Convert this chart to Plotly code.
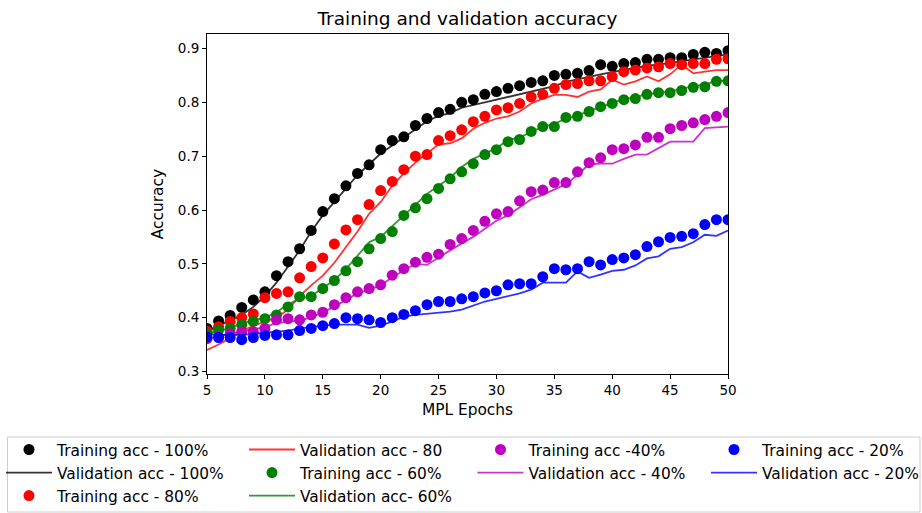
import plotly.graph_objects as go

epochs = [5, 6, 7, 8, 9, 10, 11, 12, 13, 14, 15, 16, 17, 18, 19, 20, 21, 22, 23, 24, 25, 26,
          27, 28, 29, 30, 31, 32, 33, 34, 35, 36, 37, 38, 39, 40, 41, 42, 43, 44, 45, 46, 47,
          48, 49, 50]

train_100 = [0.380, 0.394, 0.404, 0.419, 0.433, 0.448, 0.478, 0.504, 0.528, 0.562, 0.597, 0.621,
             0.645, 0.668, 0.684, 0.712, 0.729, 0.736, 0.757, 0.770, 0.781, 0.787, 0.800, 0.805,
             0.815, 0.820, 0.826, 0.831, 0.837, 0.840, 0.850, 0.852, 0.854, 0.859, 0.870, 0.867,
             0.872, 0.874, 0.880, 0.880, 0.883, 0.883, 0.889, 0.893, 0.891, 0.896]
val_100 = [0.375, 0.385, 0.395, 0.405, 0.420, 0.440, 0.465, 0.495, 0.525, 0.560, 0.590, 0.615,
           0.640, 0.665, 0.685, 0.705, 0.720, 0.735, 0.750, 0.765, 0.775, 0.780, 0.790, 0.795,
           0.800, 0.805, 0.810, 0.815, 0.820, 0.825, 0.830, 0.838, 0.843, 0.848, 0.852, 0.856,
           0.860, 0.864, 0.868, 0.870, 0.873, 0.876, 0.880, 0.883, 0.886, 0.889]

train_80 = [0.375, 0.383, 0.393, 0.400, 0.407, 0.437, 0.445, 0.448, 0.474, 0.495, 0.511, 0.537,
            0.563, 0.582, 0.610, 0.636, 0.653, 0.675, 0.700, 0.703, 0.729, 0.738, 0.749, 0.764,
            0.774, 0.786, 0.790, 0.798, 0.810, 0.815, 0.826, 0.833, 0.835, 0.840, 0.840, 0.848,
            0.857, 0.860, 0.864, 0.866, 0.872, 0.870, 0.872, 0.872, 0.880, 0.881]
val_80 = [0.340, 0.350, 0.362, 0.375, 0.385, 0.392, 0.400, 0.415, 0.440, 0.460, 0.478, 0.502,
          0.530, 0.560, 0.593, 0.615, 0.645, 0.668, 0.688, 0.705, 0.722, 0.724, 0.733, 0.751,
          0.762, 0.770, 0.774, 0.783, 0.798, 0.807, 0.814, 0.814, 0.810, 0.820, 0.824, 0.842,
          0.833, 0.839, 0.848, 0.839, 0.852, 0.870, 0.854, 0.857, 0.860, 0.860]

train_60 = [0.370, 0.377, 0.380, 0.387, 0.393, 0.398, 0.405, 0.420, 0.439, 0.439, 0.454, 0.469,
            0.487, 0.504, 0.528, 0.547, 0.560, 0.590, 0.604, 0.621, 0.640, 0.658, 0.671, 0.686,
            0.703, 0.712, 0.727, 0.731, 0.746, 0.755, 0.755, 0.772, 0.774, 0.783, 0.792, 0.798,
            0.805, 0.807, 0.815, 0.818, 0.818, 0.822, 0.828, 0.829, 0.839, 0.840]
val_60 = [0.370, 0.375, 0.380, 0.390, 0.395, 0.400, 0.410, 0.425, 0.435, 0.440, 0.455, 0.470,
          0.490, 0.515, 0.540, 0.550, 0.570, 0.590, 0.610, 0.630, 0.645, 0.660, 0.680, 0.695,
          0.705, 0.715, 0.730, 0.735, 0.745, 0.755, 0.760, 0.770, 0.775, 0.785, 0.790, 0.800,
          0.805, 0.810, 0.815, 0.818, 0.820, 0.825, 0.830, 0.833, 0.840, 0.840]

train_40 = [0.361, 0.364, 0.370, 0.374, 0.374, 0.380, 0.396, 0.398, 0.396, 0.405, 0.410, 0.424,
            0.437, 0.448, 0.454, 0.461, 0.479, 0.491, 0.503, 0.512, 0.518, 0.536, 0.547, 0.562,
            0.579, 0.593, 0.597, 0.617, 0.634, 0.637, 0.651, 0.651, 0.671, 0.688, 0.697, 0.712,
            0.714, 0.721, 0.735, 0.735, 0.751, 0.757, 0.762, 0.768, 0.774, 0.781]
val_40 = [0.360, 0.365, 0.370, 0.375, 0.378, 0.383, 0.390, 0.393, 0.395, 0.400, 0.410, 0.420,
          0.433, 0.445, 0.452, 0.460, 0.475, 0.488, 0.500, 0.498, 0.512, 0.525, 0.538, 0.550,
          0.565, 0.580, 0.590, 0.605, 0.620, 0.628, 0.638, 0.648, 0.665, 0.685, 0.686, 0.686,
          0.695, 0.703, 0.703, 0.715, 0.727, 0.727, 0.727, 0.752, 0.754, 0.755]

train_20 = [0.364, 0.363, 0.363, 0.359, 0.363, 0.367, 0.368, 0.368, 0.376, 0.380, 0.385, 0.389,
            0.400, 0.398, 0.396, 0.391, 0.400, 0.406, 0.413, 0.424, 0.430, 0.430, 0.435, 0.439,
            0.446, 0.450, 0.461, 0.463, 0.463, 0.476, 0.491, 0.489, 0.491, 0.504, 0.498, 0.508,
            0.511, 0.517, 0.532, 0.541, 0.549, 0.551, 0.556, 0.573, 0.582, 0.582]
val_20 = [0.370, 0.368, 0.368, 0.368, 0.370, 0.372, 0.374, 0.376, 0.380, 0.383, 0.385, 0.387,
          0.387, 0.387, 0.381, 0.385, 0.393, 0.402, 0.405, 0.407, 0.409, 0.411, 0.415, 0.422,
          0.430, 0.435, 0.440, 0.445, 0.452, 0.465, 0.465, 0.465, 0.486, 0.474, 0.480, 0.487,
          0.489, 0.497, 0.510, 0.514, 0.528, 0.531, 0.540, 0.554, 0.552, 0.562]

x_ticks = [5, 10, 15, 20, 25, 30, 35, 40, 45, 50]
y_ticks = [0.3, 0.4, 0.5, 0.6, 0.7, 0.8, 0.9]

# (name, values, kind, colour, legend column)
series = [
    ("Training acc - 100%", train_100, "markers", "#000000", "legend"),
    ("Validation acc - 100%", val_100, "lines", "#000000", "legend"),
    ("Training acc - 80%", train_80, "markers", "#ff0000", "legend"),
    ("Validation acc - 80", val_80, "lines", "#ff0000", "legend2"),
    ("Training acc - 60%", train_60, "markers", "#008000", "legend2"),
    ("Validation acc- 60%", val_60, "lines", "#008000", "legend2"),
    ("Training acc -40%", train_40, "markers", "#bf00bf", "legend3"),
    ("Validation acc - 40%", val_40, "lines", "#bf00bf", "legend3"),
    ("Training acc - 20%", train_20, "markers", "#0000ff", "legend4"),
    ("Validation acc - 20%", val_20, "lines", "#0000ff", "legend4"),
]

fig = go.Figure()
for name, vals, kind, col, leg in series:
    if kind == "markers":
        fig.add_trace(go.Scatter(x=epochs, y=vals, mode="markers", name=name, legend=leg,
                                 marker=dict(color=col, size=11, line=dict(width=0))))
    else:
        fig.add_trace(go.Scatter(x=epochs, y=vals, mode="lines", name=name, legend=leg,
                                 line=dict(color=col, width=1.8), opacity=0.8))

FONT = "DejaVu Sans"
W, H = 922, 513
ML, MR, MT, MB = 207, 194, 34, 139
PW, PH = W - ML - MR, H - MT - MB


def px_to_paper_x(px):
    return (px - ML) / PW


def px_to_paper_y(py):
    return (H - MB - py) / PH


def legend_at(left_px, top_px):
    # horizontal legend whose entries are wider than half the plot width,
    # so each entry wraps onto its own row (one legend per column)
    return dict(orientation="h", xref="container", yref="container",
                x=left_px / W, y=1 - top_px / H, xanchor="left", yanchor="top",
                entrywidth=300, entrywidthmode="pixels",
                borderwidth=0, bgcolor="rgba(0,0,0,0)", itemwidth=46,
                font=dict(family=FONT, size=15.4, color="#000000"), traceorder="normal")


LEG_TOP = 433
fig.update_layout(
    width=W, height=H,
    margin=dict(l=ML, r=MR, t=MT, b=MB),
    paper_bgcolor="white", plot_bgcolor="white",
    font=dict(family=FONT, size=13, color="#000000"),
    title=dict(text="Training and validation accuracy", x=0.5, xref="paper",
               y=1 - 18.5 / H, yref="container", yanchor="middle", xanchor="center",
               font=dict(family=FONT, size=18.5, color="#000000")),
    xaxis=dict(range=[5, 50], tickvals=x_ticks, ticks="outside", ticklen=4, tickcolor="#000",
               showgrid=False, zeroline=False, showline=True, linecolor="#000", linewidth=1,
               mirror=True, title=dict(text="MPL Epochs", standoff=7, font=dict(size=15.4)),
               tickfont=dict(size=13.5)),
    yaxis=dict(range=[0.2953, 0.927], tickvals=y_ticks, tickformat=".1f", ticks="outside",
               ticklen=4, tickcolor="#000", showgrid=False, zeroline=False, showline=True,
               linecolor="#000", linewidth=1, mirror=True,
               title=dict(text="Accuracy", standoff=10, font=dict(size=15.4)),
               tickfont=dict(size=13.5)),
    legend=legend_at(1, LEG_TOP),
    legend2=legend_at(244, LEG_TOP),
    legend3=legend_at(472.5, LEG_TOP),
    legend4=legend_at(706, LEG_TOP),
    shapes=[dict(type="rect", xref="paper", yref="paper",
                 x0=px_to_paper_x(7.5), x1=px_to_paper_x(920),
                 y0=px_to_paper_y(437), y1=px_to_paper_y(512),
                 line=dict(color="#cccccc", width=1), fillcolor="rgba(0,0,0,0)",
                 layer="below")],
)

fig.write_html("out.html")
